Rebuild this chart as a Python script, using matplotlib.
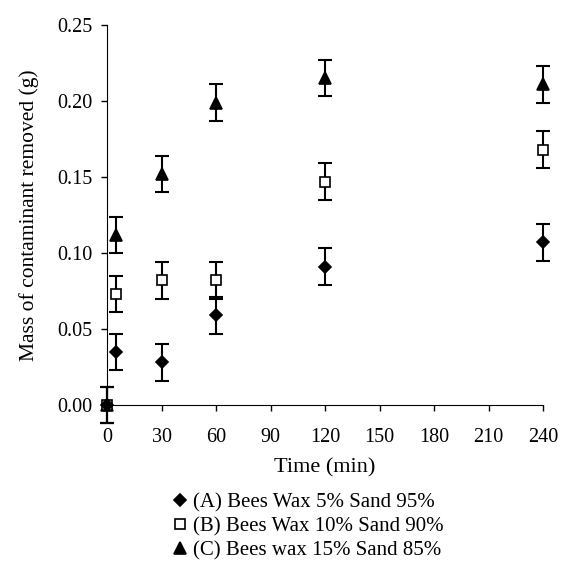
import matplotlib
matplotlib.use("Agg")
import matplotlib.pyplot as plt

plt.rcParams['font.family'] = ['Liberation Serif', 'DejaVu Serif']

time = [0, 5, 30, 60, 120, 240]
mass_a = [0.0, 0.035, 0.028, 0.059, 0.091, 0.107]
mass_b = [0.0, 0.073, 0.082, 0.082, 0.147, 0.168]
mass_c = [0.0, 0.112, 0.152, 0.199, 0.215, 0.211]
err = [0.012, 0.012, 0.012, 0.012, 0.012, 0.012]
labels = ["(A) Bees Wax 5% Sand 95%", "(B) Bees Wax 10% Sand 90%", "(C) Bees wax 15% Sand 85%"]
xticks = [0, 30, 60, 90, 120, 150, 180, 210, 240]
yticks = [0.00, 0.05, 0.10, 0.15, 0.20, 0.25]

fig = plt.figure(figsize=(5.64, 5.63), dpi=100)
ax = fig.add_axes([0.19, 0.2806, 0.773, 0.675])

styles = [dict(marker='D', mfc='black', ms=6, zorder=4),
          dict(marker='s', mfc='white', ms=7, zorder=3),
          dict(marker='^', mfc='black', ms=8, zorder=2)]
handles = []
for ys, st, lab in zip([mass_a, mass_b, mass_c], styles, labels):
    eb = ax.errorbar(time, ys, yerr=err, fmt='none', ecolor='black', elinewidth=1.5,
                     capsize=5, capthick=1.5, clip_on=False)
    for c in eb.get_children():
        c.set_clip_on(False)
    h, = ax.plot(time, ys, linestyle='none', color='black', mec='black', mew=1.2,
                 clip_on=False, label=lab, **st)
    handles.append(h)

ax.set_xlim(0, 240)
ax.set_ylim(0, 0.25)
ax.set_xticks(xticks)
ax.set_yticks(yticks)
ax.set_yticklabels([f"{v:.2f}" for v in yticks])
ax.spines['top'].set_visible(False)
ax.spines['right'].set_visible(False)
ax.tick_params(direction='out', length=4.5, width=1, labelsize=14.5, colors='black')
ax.tick_params(axis='x', pad=12)
ax.tick_params(axis='y', pad=6)
ax.set_xlabel("Time (min)", fontsize=16, labelpad=8)
ax.set_ylabel("Mass of contaminant removed (g)", fontsize=15.5, labelpad=13)

leg = fig.legend(handles=handles, loc='upper left', bbox_to_anchor=(0.287, 0.143),
                 frameon=False, fontsize=15, handlelength=0.7, handletextpad=0.3,
                 labelspacing=0.2, borderpad=0, bbox_transform=fig.transFigure)

fig.savefig("out.png", dpi=100)
